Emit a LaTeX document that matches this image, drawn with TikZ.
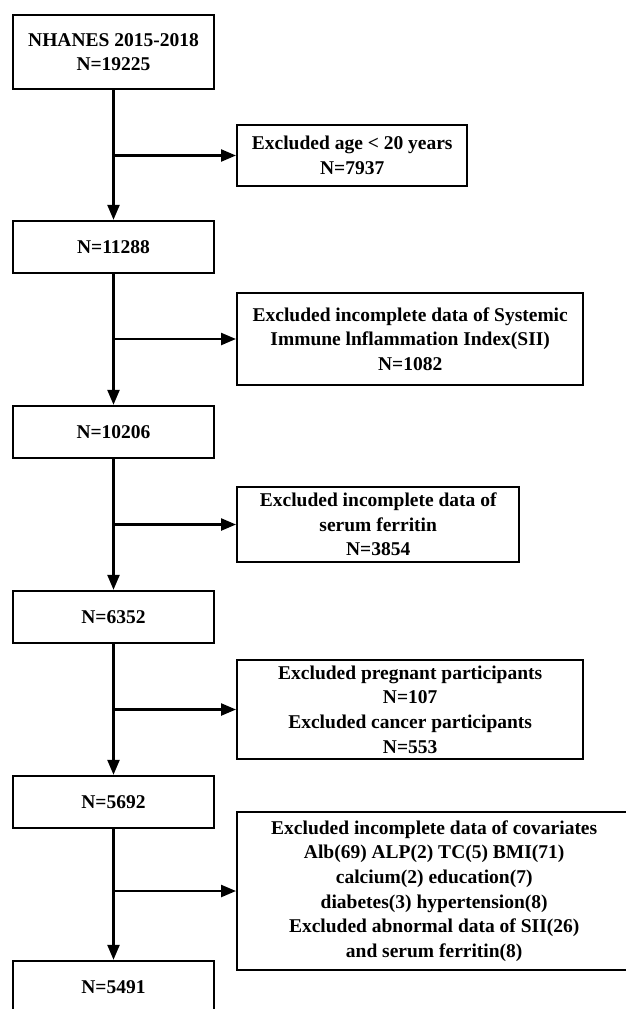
\documentclass[tikz,border=0pt]{standalone}
\usepackage{fontspec}
\setmainfont{Liberation Serif}
\usepackage{tikz}
\usetikzlibrary{arrows.meta,positioning}

\begin{document}
\begin{tikzpicture}[
    x=1pt, y=-1pt,
    font=\fontsize{19.5}{24.6}\selectfont\bfseries,
    node distance=130.6pt,
    mainbox/.style={rectangle, draw, line width=2.4pt, minimum width=201pt, minimum height=52pt, inner sep=1pt, align=center},
    exclbox/.style={rectangle, draw, line width=2.4pt, anchor=west, inner sep=1pt, align=center},
    arrow/.style={-{Triangle[length=15pt,width=12pt]}, line width=2.4pt}
]
    \useasboundingbox (0,0) rectangle (626,1009);
    \clip (0,0) rectangle (626,1009);

    % main chain
    \node[mainbox, minimum height=74pt] (all) at (113.5,52) {NHANES 2015-2018\\N=19225};
    \node[mainbox, below=129.6pt of all] (n11288) {N=11288};
    \node[mainbox, below=of n11288] (n10206) {N=10206};
    \node[mainbox, below=of n10206] (n6352) {N=6352};
    \node[mainbox, below=of n6352] (n5692) {N=5692};
    \node[mainbox, below=of n5692] (n5491) {N=5491};

    % exclusions
    \node[exclbox, minimum width=230pt, minimum height=61pt] (exage) at (236,155.5) {Excluded age < 20 years\\N=7937};
    \node[exclbox, minimum width=346pt, minimum height=92pt] (exsii) at (236,339) {Excluded incomplete data of Systemic\\Immune lnflammation Index(SII)\\N=1082};
    \node[exclbox, minimum width=282pt, minimum height=75pt] (exfer) at (236,524.5) {Excluded incomplete data of\\serum ferritin\\N=3854};
    \node[exclbox, minimum width=346pt, minimum height=99pt] (expreg) at (236,709.5) {Excluded pregnant participants\\N=107\\Excluded cancer participants\\N=553};
    \node[exclbox, minimum width=394pt, minimum height=158pt] (excov) at (236,891) {Excluded incomplete data of covariates\\Alb(69) ALP(2) TC(5) BMI(71)\\calcium(2) education(7)\\diabetes(3) hypertension(8)\\Excluded abnormal data of SII(26)\\and serum ferritin(8)};

    \coordinate (j1) at (all.south |- exage.west);
    \coordinate (j2) at (n11288.south |- exsii.west);
    \coordinate (j3) at (n10206.south |- exfer.west);
    \coordinate (j4) at (n6352.south |- expreg.west);
    \coordinate (j5) at (n5692.south |- excov.west);

    \draw[arrow] (all) -- (n11288);
    \draw[arrow] (n11288) -- (n10206);
    \draw[arrow] (n10206) -- (n6352);
    \draw[arrow] (n6352) -- (n5692);
    \draw[arrow] (n5692) -- (n5491);

    \draw[arrow] (j1) -- (exage);
    \draw[arrow] (j2) -- (exsii);
    \draw[arrow] (j3) -- (exfer);
    \draw[arrow] (j4) -- (expreg);
    \draw[arrow] (j5) -- (excov);
\end{tikzpicture}
\end{document}
